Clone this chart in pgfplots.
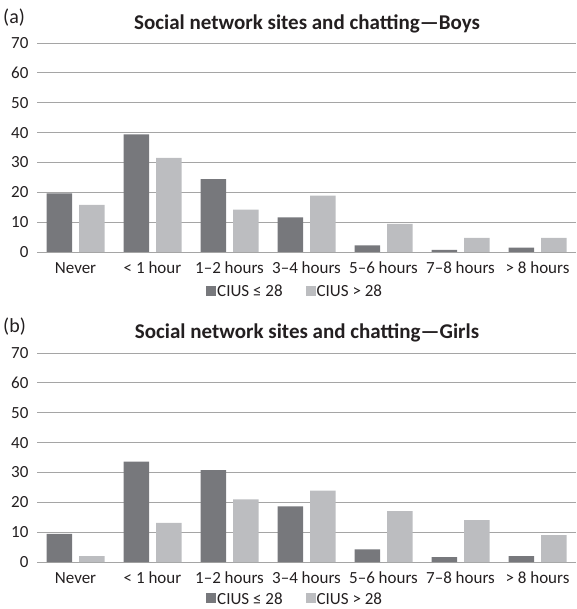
\documentclass[border=0pt]{standalone}
\usepackage{fontspec}
\setmainfont{Carlito}
\usepackage{pgfplots}
\pgfplotsset{compat=1.18}
\definecolor{darkbar}{RGB}{119,120,124}
\definecolor{lightbar}{RGB}{188,189,192}
\definecolor{gridc}{RGB}{165,165,165}
\definecolor{txt}{RGB}{35,31,32}
\pgfplotsset{
  cius/.style={
    scale only axis, width=539pt, height=209pt,
    anchor=south west,
    xmin=-0.5, xmax=6.5, ymin=0, ymax=70,
    ytick={0,10,...,70},
    xtick={0,...,6},
    xticklabels={Never,< 1 hour,1–2 hours,3–4 hours,5–6 hours,7–8 hours,> 8 hours},
    axis y line*=left,
    y axis line style={draw=none},
    axis x line*=bottom,
    x axis line style={draw=gridc, line width=0.9pt, -},
    ymajorgrids, grid style={draw=gridc, line width=0.9pt},
    major tick length=0pt,
    tick style={draw=none},
    ticklabel style={font=\fontsize{17}{20}\selectfont, text=txt},
    /pgf/number format/assume math mode=true,
    yticklabel style={xshift=-5pt},
    xticklabel style={text height=11pt, text depth=3pt, yshift=-6.5pt},
    ybar, bar width=25.5pt,
    legend columns=2,
    legend style={draw=none, fill=none, at={(0.478,-0.187)}, anchor=center,
      font=\fontsize{17}{20}\selectfont, text=txt,
      /tikz/every even column/.append style={column sep=22pt},
      nodes={inner xsep=1pt},
      inner sep=0pt},
    legend cell align=left,
    legend image code/.code={\fill[##1] (0pt,-4.5pt) rectangle (10pt,5.5pt);},
  },
  darkstyle/.style={fill=darkbar, draw=none, bar shift=-16.25pt},
  lightstyle/.style={fill=lightbar, draw=none, bar shift=16.25pt},
}
\begin{document}
\begin{tikzpicture}
\path[use as bounding box] (0pt,0pt) rectangle (576pt,609pt);
% (a) Boys
\begin{axis}[cius, at={(37pt,357pt)}]
\addplot[darkstyle] coordinates {(0,19.6) (1,39.4) (2,24.4) (3,11.6) (4,2.2) (5,0.7) (6,1.5)};
\addplot[lightstyle] coordinates {(0,15.8) (1,31.5) (2,14.2) (3,18.9) (4,9.4) (5,4.7) (6,4.7)};
\legend{CIUS ≤ 28,CIUS > 28}
\end{axis}
\node[anchor=base west, inner sep=0pt, text=txt, font=\fontsize{20}{24}\selectfont] at (3pt,585pt) {(a)};
\node[anchor=base, inner sep=0pt, text=txt, font=\fontsize{21}{24}\selectfont\bfseries] at (307pt,579pt) {Social network sites and chatting—Boys};
% (b) Girls
\begin{axis}[cius, at={(37pt,47pt)}, legend style={at={(0.478,-0.177)}}]
\addplot[darkstyle] coordinates {(0,9.4) (1,33.6) (2,30.8) (3,18.6) (4,4.2) (5,1.6) (6,2.0)};
\addplot[lightstyle] coordinates {(0,2.0) (1,13.1) (2,21.0) (3,23.9) (4,17.0) (5,14.0) (6,9.0)};
\legend{CIUS ≤ 28,CIUS > 28}
\end{axis}
\node[anchor=base west, inner sep=0pt, text=txt, font=\fontsize{20}{24}\selectfont] at (3pt,276pt) {(b)};
\node[anchor=base, inner sep=0pt, text=txt, font=\fontsize{21}{24}\selectfont\bfseries] at (307pt,270pt) {Social network sites and chatting—Girls};
\end{tikzpicture}
\end{document}
